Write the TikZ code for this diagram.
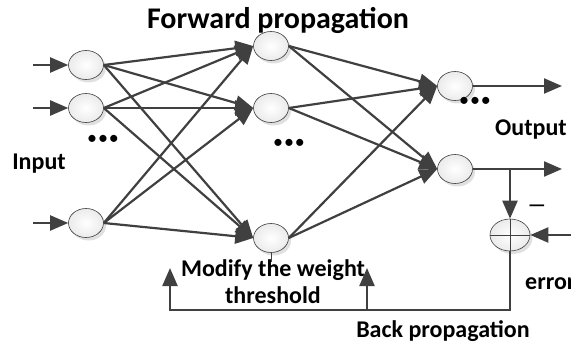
\documentclass[tikz,border=0pt]{standalone}
\usepackage{fontspec}
\setmainfont{Carlito}
\usepackage{tikz}
\usetikzlibrary{shapes.geometric, arrows.meta, shadows, positioning}
\definecolor{linegray}{HTML}{404040}
\tikzstyle{neuron} = [ellipse, draw=black!75, line width=0.6pt, inner color=white, outer color=black!8, minimum width=35pt, minimum height=29pt, inner sep=0pt, drop shadow={shadow xshift=2.5pt, shadow yshift=-3pt, fill=black!30, opacity=0.4}]
\tikzstyle{link} = [draw=linegray, line width=2.2pt, -{Triangle[length=18pt, width=15pt]}]
\tikzstyle{txt} = [font=\bfseries\fontsize{24}{27}\selectfont, align=center, inner sep=0pt]
\tikzstyle{ellip} = [font=\fontsize{20}{20}\selectfont, inner sep=0pt]
\newcommand{\threedots}{\textbullet\kern1pt\textbullet\kern1pt\textbullet}

\begin{document}
\begin{tikzpicture}[x=1pt, y=-1pt]
                    \useasboundingbox (0,0) rectangle (571,342);
                    % neurons
                    \node[neuron] (in1) at (86,65) {};
                    \node[neuron] (in2) at (86,108) {};
                    \node[neuron] (in3) at (86,223) {};
                    \node[neuron] (hid1) at (271,46) {};
                    \node[neuron] (hid2) at (271,108) {};
                    \node[neuron] (hid3) at (271,238) {};
                    \node[neuron] (out1) at (455,86) {};
                    \node[neuron] (out2) at (455,169) {};
                    \node[neuron, minimum width=40pt, minimum height=32pt] (sum) at (510,235) {};
                    \draw[black!75, line width=0.6pt] (sum.west) -- (sum.east) (sum.north) -- (sum.south);
                    % free ends
                    \coordinate (in1s) at (33,65);
                    \coordinate (in2s) at (33,108);
                    \coordinate (in3s) at (33,223);
                    \coordinate (out1e) at (562,86);
                    \coordinate (out2e) at (562,169);
                    \coordinate (branch) at (510,169);
                    \coordinate (errs) at (571,235);
                    \coordinate (fbR) at (510,310);
                    \coordinate (fbM) at (367,310);
                    \coordinate (fbL) at (170,310);
                    \coordinate (modL) at (170,268);
                    \coordinate (modR) at (367,268);
                    \coordinate (tick) at (271,262);
                    % inputs
                    \draw[link] (in1s) -- (in1);
                    \draw[link] (in2s) -- (in2);
                    \draw[link] (in3s) -- (in3);
                    % input -> hidden
                    \draw[link] (in1.east) -- (hid1.west);
                    \draw[link] (in1.east) -- (hid2.west);
                    \draw[link] (in1.east) -- (hid3.west);
                    \draw[link] (in2.east) -- (hid1.west);
                    \draw[link] (in2.east) -- (hid2.west);
                    \draw[link] (in2.east) -- (hid3.west);
                    \draw[link] (in3.east) -- (hid1.west);
                    \draw[link] (in3.east) -- (hid2.west);
                    \draw[link] (in3.east) -- (hid3.west);
                    % hidden -> output
                    \draw[link] (hid1.east) -- (out1.west);
                    \draw[link] (hid1.east) -- (out2.west);
                    \draw[link] (hid2.east) -- (out1.west);
                    \draw[link] (hid2.east) -- (out2.west);
                    \draw[link] (hid3.east) -- (out1.west);
                    \draw[link] (hid3.east) -- (out2.west);
                    % outputs and error
                    \draw[link] (out1) -- (out1e);
                    \draw[link] (out2) -- (out2e);
                    \draw[link] (branch) -- (sum);
                    \draw[link] (errs) -- (sum);
                    \draw[link] (sum.south) -- (fbR) -- (fbL) -- (modL);
                    \draw[link] (fbM) -- (modR);
                    \draw[black!75, line width=0.6pt] (hid3.south) -- (tick);
                    % texts
                    \node[txt, font=\bfseries\fontsize{30}{34}\selectfont] (fwd) at (278,20) {Forward propagation};
                    \node[txt] (inlab) at (39,164) {Input};
                    \node[txt] (outlab) at (531,130) {Output};
                    \node[txt] (modlab) at (273,282) {Modify the weight\\threshold};
                    \node[txt] (backlab) at (443,331) {Back propagation};
                    \node[txt, anchor=west] (errlab) at (525,284) {error};
                    \node[txt, font=\bfseries\fontsize{20}{20}\selectfont] (minus) at (537,208) {---};
                    \node[ellip] (dots1) at (103,140) {\threedots};
                    \node[ellip] (dots2) at (289,144) {\threedots};
                    \node[ellip] (dots3) at (475,102) {\threedots};
                \end{tikzpicture}
\end{document}
